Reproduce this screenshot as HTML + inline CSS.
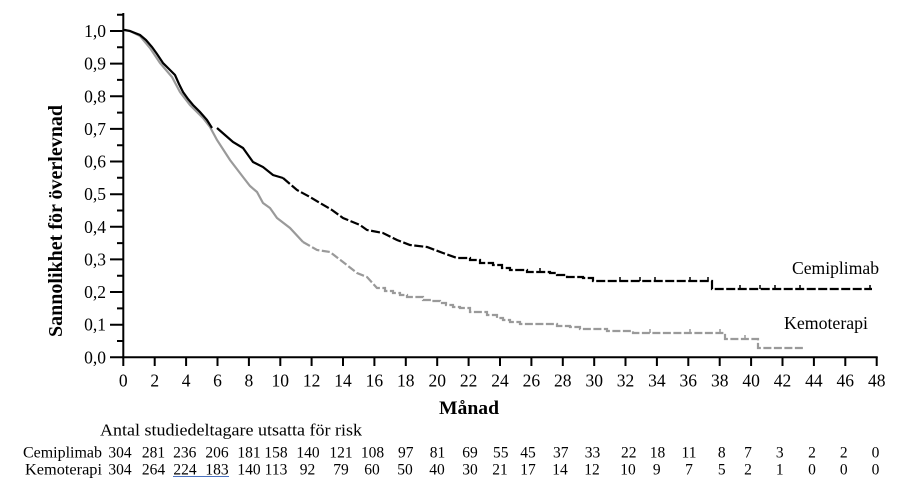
<!DOCTYPE html>
<html><head><meta charset="utf-8"><style>
html,body{margin:0;padding:0;background:#fff;}
svg{display:block;}
text{font-family:"Liberation Serif","Times New Roman",serif;fill:#000;}
</style></head><body>
<svg width="902" height="493" viewBox="0 0 902 493" xmlns="http://www.w3.org/2000/svg">
<rect width="902" height="493" fill="#fff"/>
<!-- axes -->
<g stroke="#000" stroke-width="2" fill="none">
<line x1="123.3" y1="13" x2="123.3" y2="358.3"/>
<line x1="122.3" y1="357.3" x2="877.7" y2="357.3"/>
<path d="M110,357.3H123M110,324.7H123M110,292H123M110,259.4H123M110,226.8H123M110,194.2H123M110,161.5H123M110,128.9H123M110,96.3H123M110,63.6H123M110,31H123"/>
<path d="M117,341H123M117,308.4H123M117,275.7H123M117,243.1H123M117,210.5H123M117,177.8H123M117,145.2H123M117,112.6H123M117,79.9H123M117,47.3H123M117,14.7H123"/>
<path d="M123.3,357V366M154.7,357V366M186.1,357V366M217.5,357V366M248.9,357V366M280.3,357V366M311.6,357V366M343,357V366M374.4,357V366M405.8,357V366M437.2,357V366M468.6,357V366M500,357V366M531.4,357V366M562.8,357V366M594.2,357V366M625.5,357V366M656.9,357V366M688.3,357V366M719.7,357V366M751.1,357V366M782.5,357V366M813.9,357V366M845.3,357V366M876.7,357V366"/>
</g>
<g font-size="17.5" text-anchor="end">
<text x="106" y="37">1,0</text>
<text x="106" y="69.6">0,9</text>
<text x="106" y="102.3">0,8</text>
<text x="106" y="134.9">0,7</text>
<text x="106" y="167.5">0,6</text>
<text x="106" y="200.2">0,5</text>
<text x="106" y="232.8">0,4</text>
<text x="106" y="265.4">0,3</text>
<text x="106" y="298">0,2</text>
<text x="106" y="330.7">0,1</text>
<text x="106" y="363.3">0,0</text>
</g>
<g font-size="17.5" text-anchor="middle">
<text x="123.3" y="386.5">0</text>
<text x="154.7" y="386.5">2</text>
<text x="186.1" y="386.5">4</text>
<text x="217.5" y="386.5">6</text>
<text x="248.9" y="386.5">8</text>
<text x="280.3" y="386.5">10</text>
<text x="311.6" y="386.5">12</text>
<text x="343" y="386.5">14</text>
<text x="374.4" y="386.5">16</text>
<text x="405.8" y="386.5">18</text>
<text x="437.2" y="386.5">20</text>
<text x="468.6" y="386.5">22</text>
<text x="500" y="386.5">24</text>
<text x="531.4" y="386.5">26</text>
<text x="562.8" y="386.5">28</text>
<text x="594.2" y="386.5">30</text>
<text x="625.5" y="386.5">32</text>
<text x="656.9" y="386.5">34</text>
<text x="688.3" y="386.5">36</text>
<text x="719.7" y="386.5">38</text>
<text x="751.1" y="386.5">40</text>
<text x="782.5" y="386.5">42</text>
<text x="813.9" y="386.5">44</text>
<text x="845.3" y="386.5">46</text>
<text x="876.7" y="386.5">48</text>
</g>
<text x="439" y="414" font-size="18.5" font-weight="bold" textLength="60" lengthAdjust="spacingAndGlyphs">Månad</text>
<text transform="translate(62,221) rotate(-90)" font-size="20" font-weight="bold" text-anchor="middle" textLength="232" lengthAdjust="spacingAndGlyphs">Sannolikhet för överlevnad</text>

<g fill="none" stroke="#9a9a9a" stroke-width="2.2">
<path d="M123,30 L130,31 L140,36 L150,48 L160,63 L172,77 L180,92 L190,105 L203,118 L210,127 L217,140 L230,160 L243,177 L250,186 L257,192 L263,203 L270,208 L277,218 L290,228 L303,242"/>
<path stroke-dasharray="8 2.5" d="M303,242 L317,250 L330,252 L343,262 L357,273 L367,277 L377,288 H385 V291 H393 V293 H400 V295 H407 V297 H423 V300 H432 V301 H440 V303 H446 V305 H453 V307 H460 V308 H470 V312 H487 V315 H497 V318 H503 V320 H510 V322 H520 V324 H543 V324 H557 V326 H570 V327 H580 V329 H607 V331 H633 V333 H725 V339 H758 V348 H805"/>
</g>
<g fill="none" stroke="#000" stroke-width="2.2">
<path d="M123,30 L125,30 L130,31 L135,33 L140,35 L146,40 L152,47 L157,54 L163,63 L169,69 L175,75 L179,84 L183,92 L188,99 L193,105 L200,112 L207,120 L212,128"/>
<path d="M217,128 L225,135 L233,142 L243,148 L248,155 L253,162 L263,167 L273,175 L283,178"/>
<path stroke-dasharray="9 2.5" d="M283,178 L290,184 L297,190 L310,197 L320,203 L332,210 L343,218 L360,225 L367,230 L383,233 L397,240 L410,245 L427,247 L443,253 L457,258 H470 V260 H480 V263 H493 V265 H502 V268 H510 V270 H527 V272 H550 V273 H557 V275 H567 V277 H583 V278 H593 V281 H712 V289 H872"/>
</g>
<g stroke="#000" stroke-width="1.5">
<path d="M540,272V268M620,281V277M640,281V277M655,281V277M690,281V277M708,281V277M740,289V285M760,289V285M775,289V285M800,289V285M870,289V285"/>
</g>
<g stroke="#9a9a9a" stroke-width="1.5">
<path d="M650,333V329M690,333V329M720,333V329M745,339V335"/>
</g>

<text x="792" y="274" font-size="18" textLength="87" lengthAdjust="spacingAndGlyphs">Cemiplimab</text>
<text x="784" y="329" font-size="18" textLength="84" lengthAdjust="spacingAndGlyphs">Kemoterapi</text>

<text x="100" y="435.5" font-size="17" textLength="262" lengthAdjust="spacingAndGlyphs">Antal studiedeltagare utsatta för risk</text>
<text x="102" y="457.5" font-size="15.5" text-anchor="end" textLength="79" lengthAdjust="spacingAndGlyphs">Cemiplimab</text>
<text x="102" y="474.5" font-size="15.5" text-anchor="end" textLength="77" lengthAdjust="spacingAndGlyphs">Kemoterapi</text>
<g font-size="15.5" text-anchor="middle">
<text x="120" y="457.5">304</text><text x="153.5" y="457.5">281</text><text x="184.7" y="457.5">236</text><text x="217" y="457.5">206</text><text x="249" y="457.5">181</text><text x="276" y="457.5">158</text><text x="308" y="457.5">140</text><text x="341" y="457.5">121</text><text x="372.5" y="457.5">108</text><text x="405.8" y="457.5">97</text><text x="437.5" y="457.5">81</text><text x="470" y="457.5">69</text><text x="500.8" y="457.5">55</text><text x="528" y="457.5">45</text><text x="560.8" y="457.5">37</text><text x="592.5" y="457.5">33</text><text x="628.7" y="457.5">22</text><text x="657.5" y="457.5">18</text><text x="689" y="457.5">11</text><text x="721.7" y="457.5">8</text><text x="748" y="457.5">7</text><text x="779.7" y="457.5">3</text><text x="812" y="457.5">2</text><text x="843.7" y="457.5">2</text><text x="875.5" y="457.5">0</text>
<text x="120" y="474.5">304</text><text x="153.5" y="474.5">264</text><text x="185" y="474.5">224</text><text x="217" y="474.5">183</text><text x="249" y="474.5">140</text><text x="276" y="474.5">113</text><text x="307.5" y="474.5">92</text><text x="341" y="474.5">79</text><text x="372" y="474.5">60</text><text x="405" y="474.5">50</text><text x="437" y="474.5">40</text><text x="470" y="474.5">30</text><text x="500" y="474.5">21</text><text x="528" y="474.5">17</text><text x="560" y="474.5">14</text><text x="592" y="474.5">12</text><text x="628" y="474.5">10</text><text x="656.7" y="474.5">9</text><text x="689" y="474.5">7</text><text x="721.7" y="474.5">5</text><text x="748" y="474.5">2</text><text x="779.7" y="474.5">1</text><text x="812" y="474.5">0</text><text x="843.7" y="474.5">0</text><text x="875.5" y="474.5">0</text>
</g>
<line x1="173" y1="476.5" x2="229" y2="476.5" stroke="#4a72c0" stroke-width="1"/>
</svg>
</body></html>
